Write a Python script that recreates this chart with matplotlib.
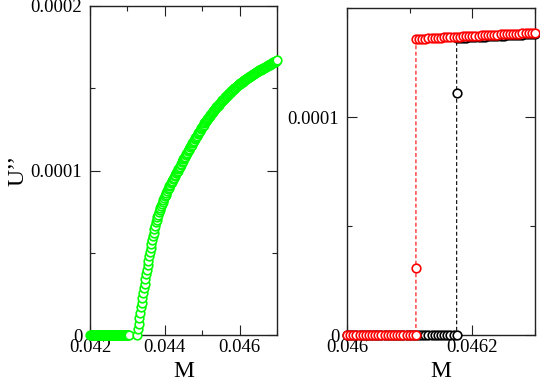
import numpy as np
import matplotlib
matplotlib.use("Agg")
import matplotlib.pyplot as plt
from matplotlib.ticker import FixedLocator, FixedFormatter

# ---------------- data: left panel (green) ----------------
# flat branch, U'' = 0
green_flat_M_start, green_flat_M_stop, green_flat_n = 0.04200, 0.04304, 53
green_flat_U = [0.0] * green_flat_n
# rising branch (U'' in units of 1e-5)
green_rise_M_start, green_rise_M_stop, green_rise_n = 0.04326, 0.04700, 188
green_rise_U_e5 = [
    0.00, 0.34, 0.67, 1.01, 1.34,
    1.68, 1.97, 2.26, 2.54, 2.83,
    3.12, 3.40, 3.68, 3.96, 4.24,
    4.52, 4.78, 5.03, 5.29, 5.54,
    5.80, 6.01, 6.22, 6.43, 6.64,
    6.85, 7.00, 7.16, 7.31, 7.47,
    7.62, 7.74, 7.86, 7.98, 8.10,
    8.22, 8.33, 8.44, 8.54, 8.65,
    8.76, 8.85, 8.94, 9.04, 9.13,
    9.22, 9.31, 9.39, 9.48, 9.56,
    9.65, 9.73, 9.82, 9.90, 9.99,
    10.07, 10.16, 10.24, 10.33, 10.41,
    10.50, 10.58, 10.67, 10.75, 10.84,
    10.92, 11.00, 11.08, 11.17, 11.25,
    11.33, 11.41, 11.49, 11.57, 11.65,
    11.73, 11.81, 11.89, 11.96, 12.04,
    12.12, 12.20, 12.27, 12.35, 12.42,
    12.50, 12.57, 12.64, 12.72, 12.79,
    12.86, 12.93, 12.99, 13.06, 13.12,
    13.19, 13.25, 13.31, 13.38, 13.44,
    13.50, 13.56, 13.62, 13.67, 13.73,
    13.79, 13.84, 13.90, 13.95, 14.01,
    14.06, 14.11, 14.16, 14.21, 14.26,
    14.31, 14.36, 14.41, 14.45, 14.50,
    14.55, 14.60, 14.64, 14.69, 14.73,
    14.78, 14.82, 14.87, 14.91, 14.96,
    15.00, 15.04, 15.08, 15.12, 15.16,
    15.20, 15.24, 15.27, 15.31, 15.34,
    15.38, 15.41, 15.45, 15.48, 15.52,
    15.55, 15.58, 15.61, 15.65, 15.68,
    15.71, 15.74, 15.77, 15.80, 15.83,
    15.86, 15.89, 15.92, 15.94, 15.97,
    16.00, 16.03, 16.05, 16.08, 16.10,
    16.13, 16.16, 16.18, 16.21, 16.23,
    16.26, 16.29, 16.31, 16.34, 16.36,
    16.39, 16.42, 16.44, 16.47, 16.49,
    16.52, 16.55, 16.57, 16.60, 16.62,
    16.65, 16.68, 16.70,
]

# ---------------- data: right panel (black and red) ----------------
black_low_M_start, black_low_M_stop, black_low_n = 0.046000, 0.046175, 36
black_low_U = [0.0] * black_low_n
black_jump_M = [0.046175]
black_jump_U_e5 = [11.11]
black_up_M_start, black_up_M_stop, black_up_n = 0.046175, 0.046300, 26
black_up_U_e5 = [
    13.62, 13.63, 13.64, 13.64, 13.65, 13.66, 13.67, 13.67, 13.68, 13.69,
    13.70, 13.70, 13.71, 13.72, 13.73, 13.73, 13.74, 13.75, 13.76, 13.76,
    13.77, 13.78, 13.79, 13.79, 13.80, 13.81,
]

red_low_M_start, red_low_M_stop, red_low_n = 0.046000, 0.046110, 23
red_low_U = [0.0] * red_low_n
red_jump_M = [0.046110]
red_jump_U_e5 = [3.07]
red_up_M_start, red_up_M_stop, red_up_n = 0.046110, 0.046300, 39
red_up_U_e5 = [
    13.58, 13.59, 13.60, 13.60, 13.61, 13.62, 13.63, 13.63, 13.64, 13.65,
    13.66, 13.66, 13.67, 13.68, 13.69, 13.70, 13.70, 13.71, 13.72, 13.73,
    13.73, 13.74, 13.75, 13.76, 13.76, 13.77, 13.78, 13.79, 13.79, 13.80,
    13.81, 13.82, 13.82, 13.83, 13.84, 13.85, 13.85, 13.86, 13.87,
]

# tick labels
left_xticks = [0.042, 0.044, 0.046]
left_xticklabels = ["0.042", "0.044", "0.046"]
left_yticks = [0.0, 0.0001, 0.0002]
left_yticklabels = ["0", "0.0001", "0.0002"]
right_xticks = [0.046, 0.0462]
right_xticklabels = ["0.046", "0.0462"]
right_yticks = [0.0, 0.0001]
right_yticklabels = ["0", "0.0001"]

# ---------------- build series ----------------
E5 = 1e-5
gM = np.concatenate([np.linspace(green_flat_M_start, green_flat_M_stop, green_flat_n),
                     np.linspace(green_rise_M_start, green_rise_M_stop, green_rise_n)])
gU = np.concatenate([np.array(green_flat_U), np.array(green_rise_U_e5) * E5])

bM = np.concatenate([np.linspace(black_low_M_start, black_low_M_stop, black_low_n),
                     black_jump_M,
                     np.linspace(black_up_M_start, black_up_M_stop, black_up_n)])
bU = np.concatenate([np.array(black_low_U), np.array(black_jump_U_e5) * E5,
                     np.array(black_up_U_e5) * E5])

rM = np.concatenate([np.linspace(red_low_M_start, red_low_M_stop, red_low_n),
                     red_jump_M,
                     np.linspace(red_up_M_start, red_up_M_stop, red_up_n)])
rU = np.concatenate([np.array(red_low_U), np.array(red_jump_U_e5) * E5,
                     np.array(red_up_U_e5) * E5])

# ---------------- figure ----------------
plt.rcParams['font.family'] = ['Liberation Serif', 'DejaVu Serif']

W, H = 540, 377
fig = plt.figure(figsize=(W / 100, H / 100), dpi=100)

def px_axes(x0, y0, x1, y1):
    return fig.add_axes([x0 / W, 1 - y1 / H, (x1 - x0) / W, (y1 - y0) / H])

axL = px_axes(90, 6, 277, 335)
axR = px_axes(347, 8, 535, 335)

TICK_FS = 13.5
LABEL_FS = 17

def style(ax):
    for s in ax.spines.values():
        s.set_linewidth(1.0)
        s.set_color('#222222')
        s.set_zorder(0.5)
    ax.tick_params(which='both', direction='in', top=True, right=True,
                   width=0.8, colors='#222222', labelcolor='black',
                   labelsize=TICK_FS)
    ax.tick_params(which='major', length=7)
    ax.tick_params(which='minor', length=3.7)
    ax.tick_params(axis='x', which='both', pad=3)
    ax.tick_params(axis='y', which='both', pad=5.5)

style(axL)
style(axR)

mk = dict(marker='o', markersize=6.2, markeredgewidth=1.2, markerfacecolor='white')

axL.plot(gM, gU, linestyle='none', color='#00ff00', markeredgecolor='#00ff00',
         zorder=3, clip_on=False, **mk)
axL.set_xlim(0.042, 0.047)
axL.set_ylim(0.0, 0.0002)
axL.xaxis.set_major_locator(FixedLocator(left_xticks))
axL.xaxis.set_major_formatter(FixedFormatter(left_xticklabels))
axL.xaxis.set_minor_locator(FixedLocator([0.043, 0.045, 0.047]))
axL.yaxis.set_major_locator(FixedLocator(left_yticks))
axL.yaxis.set_major_formatter(FixedFormatter(left_yticklabels))
axL.yaxis.set_minor_locator(FixedLocator([0.00005, 0.00015]))
axL.set_xlabel("M", fontsize=LABEL_FS)
axL.xaxis.set_label_coords(0.5, -0.078)
axL.set_ylabel("U\u2019\u2019", fontsize=LABEL_FS)
axL.yaxis.set_label_coords(-0.33, 0.5)

dash = (0, (3.5, 2.2))
axR.plot(bM, bU, linestyle=dash, linewidth=0.8, color='black',
         markeredgecolor='black', zorder=3, clip_on=False, **mk)
axR.plot(rM, rU, linestyle=dash, linewidth=0.8, color='#ff0000',
         markeredgecolor='#ff0000', zorder=4, clip_on=False, **mk)
axR.set_xlim(0.046, 0.0463)
axR.set_ylim(0.0, 0.00015)
axR.xaxis.set_major_locator(FixedLocator(right_xticks))
axR.xaxis.set_major_formatter(FixedFormatter(right_xticklabels))
axR.xaxis.set_minor_locator(FixedLocator([0.0461, 0.0463]))
axR.yaxis.set_major_locator(FixedLocator(right_yticks))
axR.yaxis.set_major_formatter(FixedFormatter(right_yticklabels))
axR.yaxis.set_minor_locator(FixedLocator([0.00005, 0.00015]))
axR.set_xlabel("M", fontsize=LABEL_FS)
axR.xaxis.set_label_coords(0.5, -0.078)

fig.savefig("out.png", dpi=100)
